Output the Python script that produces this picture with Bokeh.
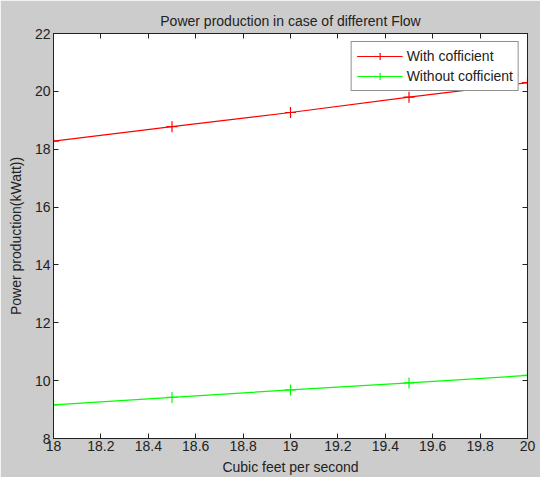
from bokeh.plotting import figure
from bokeh.models import LinearAxis, Range1d, FixedTicker, Legend, LegendItem
from bokeh.embed import file_html
from bokeh.resources import INLINE

flow = [18.0, 18.5, 19.0, 19.5, 20.0]
with_coef = [18.28, 18.78, 19.27, 19.80, 20.30]
without_coef = [9.16, 9.42, 9.68, 9.92, 10.18]
x_ticks = [18, 18.2, 18.4, 18.6, 18.8, 19, 19.2, 19.4, 19.6, 19.8, 20]
y_ticks = [8, 10, 12, 14, 16, 18, 20, 22]

FONT = "Liberation Sans"
BG = "#cccccc"
INK = "#222222"

p = figure(width=540, height=477, output_backend="svg", toolbar_location=None,
           x_range=Range1d(18, 20), y_range=Range1d(8, 22),
           title="Power production in case of different Flow",
           min_border_left=53, min_border_right=13, min_border_top=33, min_border_bottom=38)
p.border_fill_color = BG
p.background_fill_color = "white"
p.outline_line_color = INK
p.grid.visible = False
p.title.align = "center"
p.title.text_font = FONT
p.title.text_font_style = "normal"
p.title.text_font_size = "14px"
p.title.text_color = INK
p.title.standoff = 10

for ax in (p.xaxis[0], p.yaxis[0]):
    ax.major_tick_in = 5
    ax.major_tick_out = 0
    ax.minor_tick_line_color = None
    ax.axis_line_color = INK
    ax.major_tick_line_color = INK
    ax.major_label_text_font = FONT
    ax.major_label_text_font_size = "14px"
    ax.major_label_text_color = INK
    ax.axis_label_text_font = FONT
    ax.axis_label_text_font_size = "14px"
    ax.axis_label_text_font_style = "normal"
    ax.axis_label_text_color = INK

p.xaxis[0].ticker = FixedTicker(ticks=x_ticks)
p.yaxis[0].ticker = FixedTicker(ticks=y_ticks)
p.xaxis[0].axis_label = "Cubic feet per second"
p.yaxis[0].axis_label = "Power production(kWatt))"
p.xaxis[0].axis_label_standoff = 5
p.yaxis[0].axis_label_standoff = 8
p.xaxis[0].major_label_standoff = 2
p.yaxis[0].major_label_standoff = 3

blank_x = {t: "" for t in x_ticks}
blank_y = {t: "" for t in y_ticks}
top = LinearAxis(ticker=FixedTicker(ticks=x_ticks), major_label_overrides=blank_x,
                 major_label_standoff=0, major_label_text_font_size="1px",
                 major_tick_in=5, major_tick_out=0, minor_tick_line_color=None,
                 axis_line_color=INK, major_tick_line_color=INK)
right = LinearAxis(ticker=FixedTicker(ticks=y_ticks), major_label_overrides=blank_y,
                   major_label_standoff=0, major_label_text_font_size="1px",
                   major_tick_in=5, major_tick_out=0, minor_tick_line_color=None,
                   axis_line_color=INK, major_tick_line_color=INK)
p.add_layout(top, "above")
p.add_layout(right, "right")

r1 = p.line(flow, with_coef, line_color="#ff0000", line_width=1.2)
m1 = p.scatter(flow, with_coef, marker="cross", size=11, line_color="#ff0000", line_width=1.2)
r2 = p.line(flow, without_coef, line_color="#00ff00", line_width=1.2)
m2 = p.scatter(flow, without_coef, marker="cross", size=11, line_color="#00ff00", line_width=1.2)

legend = Legend(items=[LegendItem(label="With cofficient", renderers=[r1, m1]),
                       LegendItem(label="Without cofficient", renderers=[r2, m2])],
                location="top_right")
legend.label_text_font = FONT
legend.label_text_font_size = "14px"
legend.label_text_color = INK
legend.border_line_color = INK
legend.border_line_width = 1
legend.background_fill_color = "white"
legend.background_fill_alpha = 1
legend.glyph_width = 46
legend.spacing = 2
legend.padding = 5
legend.margin = 8
legend.label_standoff = 4
legend.label_height = 18
legend.glyph_height = 18
p.add_layout(legend)

open("out.html", "w").write(file_html(p, INLINE))
